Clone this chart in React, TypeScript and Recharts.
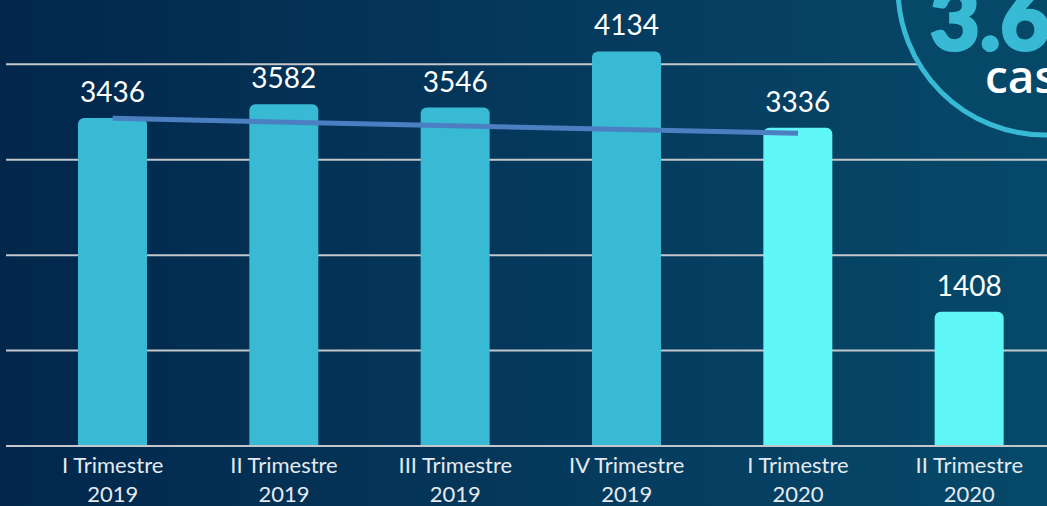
import { ComposedChart, Bar, Line, XAxis, YAxis, CartesianGrid, Cell, LabelList } from "recharts";

const quarters = ["I Trimestre", "II Trimestre", "III Trimestre", "IV Trimestre", "I Trimestre", "II Trimestre"];
const years = ["2019", "2019", "2019", "2019", "2020", "2020"];
const cases = [3436, 3582, 3546, 4134, 3336, 1408];
// trend line end points (first and fifth bar)
const trend = [3433, null, null, null, 3276, null];
const yTicks = [0, 1000, 2000, 3000, 4000];

const data = quarters.map((q, i) => ({
  name: q + "|" + years[i],
  cases: cases[i],
  trend: trend[i]
}));

const FONT = "Lato, 'Open Sans', sans-serif";

function QuarterTick(props: any) {
  const { x, y, payload } = props;
  const [q, yr] = String(payload.value).split("|");
  return (
    <text x={x} y={y} textAnchor="middle" fill="#e4eaef" fontSize={22} fontFamily={FONT}>
      <tspan x={x} dy={19}>{q}</tspan>
      <tspan x={x} dy={29}>{yr}</tspan>
    </text>
  );
}

export default function App() {
  return (
    <div
      style={{
        position: "fixed",
        left: 0,
        top: 0,
        width: 1047,
        height: 506,
        overflow: "hidden",
        background: "linear-gradient(90deg, #02274b 0%, #053a5d 55%, #06496a 100%)"
      }}
    >
      <ComposedChart width={1060} height={506} data={data} margin={{ top: 7, right: 0, bottom: 0, left: 6 }}>
        <CartesianGrid
          horizontal
          vertical={false}
          horizontalValues={yTicks}
          stroke="#c3c7cb"
          strokeWidth={2}
        />
        <XAxis
          dataKey="name"
          height={60}
          padding={{ left: 21, right: 5 }}
          tickLine={false}
          axisLine={{ stroke: "#c3c7cb", strokeWidth: 2 }}
          tick={<QuarterTick />}
          interval={0}
        />
        <YAxis hide domain={[0, 4600]} ticks={yTicks} />
        <Bar dataKey="cases" barSize={69} radius={[6, 6, 0, 0]} isAnimationActive={false}>
          {cases.map((_, i) => (
            <Cell key={i} fill={i < 4 ? "#38b9d4" : "#5ef6f6"} />
          ))}
          <LabelList dataKey="cases" position="top" offset={16} fill="#ffffff" fontSize={28} fontFamily={FONT} />
        </Bar>
        <Line
          dataKey="trend"
          stroke="#4b7fc2"
          strokeWidth={5}
          dot={false}
          connectNulls
          isAnimationActive={false}
        />
      </ComposedChart>
      <svg width={1047} height={506} style={{ position: "absolute", left: 0, top: 0, pointerEvents: "none" }}>
        <circle cx={1045} cy={-12} r={147} fill="#064868" stroke="#38b9d4" strokeWidth={5} />
        <text x={930} y={50} fill="#38b9d4" fontSize={86} fontWeight={900} fontFamily="Lato, 'Open Sans', sans-serif" stroke="#38b9d4" strokeWidth={3}>3.6</text>
        <text x={985} y={93} fill="#ffffff" fontSize={46} fontWeight={600} fontFamily="'Open Sans', sans-serif">cas</text>
      </svg>
    </div>
  );
}
